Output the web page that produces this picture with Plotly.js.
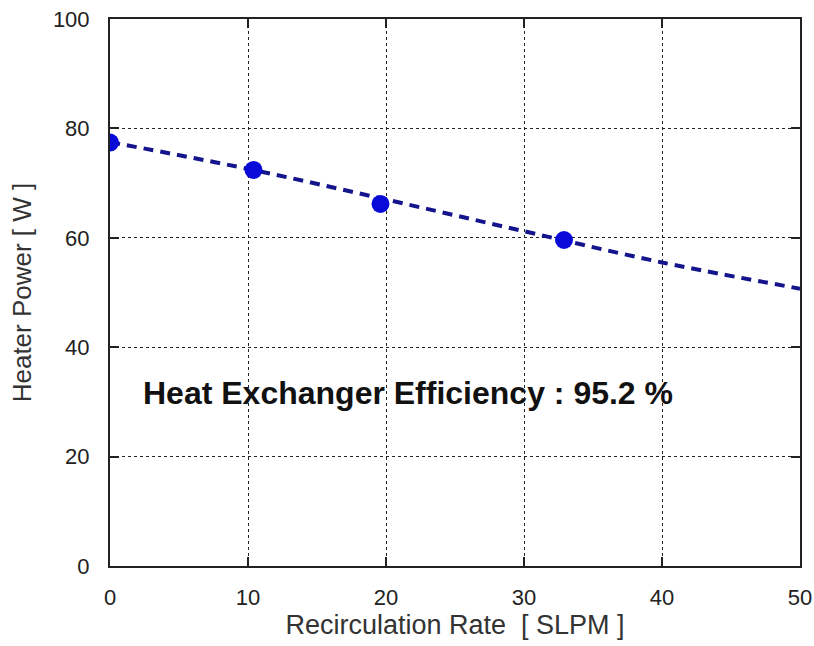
<!DOCTYPE html>
<html><head><meta charset="utf-8">
<script src="https://cdn.plot.ly/plotly-3.0.1.min.js"></script>
<style>body{margin:0;background:#fff}#c{width:814px;height:646px}</style>
</head><body><div id="c"></div>
<script>
const rateSLPM = [0, 10.4, 19.6, 32.9];
const heaterPowerW = [77.4, 72.4, 66.2, 59.6];
const fitRate = [0, 10, 20, 30, 40, 50];
const fitPower = [77.5, 72.6, 67.0, 61.2, 55.5, 50.7];
const xTicks = [0, 10, 20, 30, 40, 50];
const yTicks = [0, 20, 40, 60, 80, 100];
const annotationText = 'Heat Exchanger Efficiency : 95.2 %';

const axisCommon = {
  showline: true, linecolor: '#222', linewidth: 2, mirror: 'ticks',
  ticks: 'inside', ticklen: 9, tickwidth: 2, tickcolor: '#222',
  showgrid: true, gridcolor: '#222', griddash: 'dot', gridwidth: 1,
  zeroline: false,
  tickfont: {family: 'Liberation Sans, Arial', size: 22, color: '#222'}
};

Plotly.newPlot('c', [
  {x: fitRate, y: fitPower, mode: 'lines', line: {color: '#14148c', width: 4, dash: '10px,7px', shape: 'spline'}, hoverinfo: 'skip'},
  {x: rateSLPM, y: heaterPowerW, mode: 'markers', marker: {color: '#0a0ad8', size: 18}}
], {
  width: 814, height: 646, showlegend: false,
  margin: {l: 110, r: 14, t: 19, b: 80},
  paper_bgcolor: '#fff', plot_bgcolor: '#fff',
  xaxis: Object.assign({}, axisCommon, {range: [0, 50], tickvals: xTicks, ticklabelstandoff: 11,
    title: {text: 'Recirculation Rate  [ SLPM ]', font: {family: 'Liberation Sans, Arial', size: 27, color: '#333'}, standoff: 4}}),
  yaxis: Object.assign({}, axisCommon, {range: [0, 100], tickvals: yTicks, ticklabelstandoff: 14,
    title: {text: 'Heater Power [ W ]', font: {family: 'Liberation Sans, Arial', size: 26, color: '#333'}, standoff: 14}}),
  annotations: [{x: 21.6, y: 31.6, xref: 'x', yref: 'y', text: annotationText, showarrow: false,
    font: {family: 'Liberation Sans, Arial', size: 32, color: '#111', weight: 'bold'}}]
}, {displayModeBar: false});
</script></body></html>
